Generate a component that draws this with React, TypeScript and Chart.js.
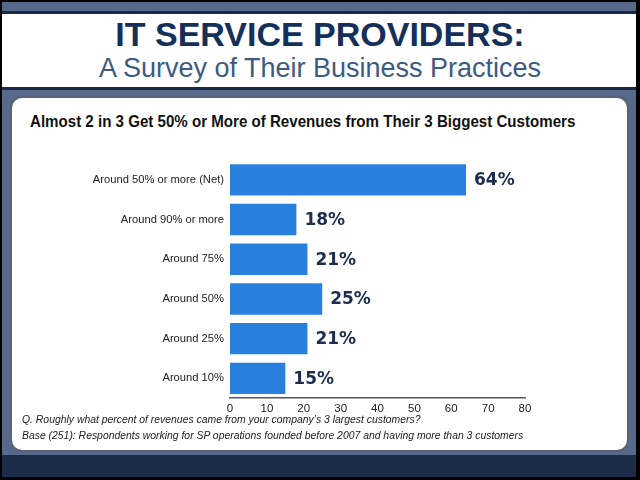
import React, { useEffect, useRef } from "react";
import { Chart, registerables } from "chart.js";

Chart.register(...registerables);

const categories = [
  "Around 50% or more (Net)",
  "Around 90% or more",
  "Around 75%",
  "Around 50%",
  "Around 25%",
  "Around 10%",
];
const values = [64, 18, 21, 25, 21, 15];
const xTicks = [0, 10, 20, 30, 40, 50, 60, 70, 80];

const headerTitle = "IT SERVICE PROVIDERS:";
const headerSubtitle = "A Survey of Their Business Practices";
const chartTitle = "Almost 2 in 3 Get 50% or More of Revenues from Their 3 Biggest Customers";
const note1 = "Q. Roughly what percent of revenues came from your company\u2019s 3 largest customers?";
const note2 = "Base (251):  Respondents working for SP operations founded before 2007 and having more than 3 customers";

const FONT = "'Liberation Sans', Arial, sans-serif";

const valueLabels = {
  id: "valueLabels",
  afterDatasetsDraw(chart: any) {
    const ctx = chart.ctx;
    const meta = chart.getDatasetMeta(0);
    ctx.save();
    ctx.font = "bold 17px 'DejaVu Sans', sans-serif";
    ctx.fillStyle = "#1c2d50";
    ctx.textBaseline = "middle";
    ctx.textAlign = "left";
    meta.data.forEach((bar: any, i: number) => {
      ctx.fillText(values[i] + "%", bar.x + 8, bar.y + 1);
    });
    ctx.restore();
  },
};

export default function App() {
  const ref = useRef<HTMLCanvasElement>(null);
  useEffect(() => {
    document.body.style.margin = "0";
    const chart = new Chart(ref.current!, {
      type: "bar",
      data: {
        labels: categories,
        datasets: [
          {
            data: values,
            backgroundColor: "#2a80de",
            borderWidth: 0,
            categoryPercentage: 1,
            barPercentage: 0.79,
          },
        ],
      },
      options: {
        indexAxis: "y",
        animation: false,
        responsive: false,
        layout: { padding: { left: 18, right: 101, top: 60, bottom: 0 } },
        plugins: {
          legend: { display: false },
          tooltip: { enabled: false },
          title: { display: false },
        },
        scales: {
          x: {
            min: 0,
            max: 80,
            afterBuildTicks(scale: any) {
              scale.ticks = xTicks.map((v) => ({ value: v }));
            },
            grid: { display: false, drawTicks: false },
            border: { display: true, color: "#555555", width: 1.5 },
            ticks: {
              color: "#222222",
              font: { family: FONT, size: 11.5 },
              padding: 4,
            },
          },
          y: {
            grid: { display: false, drawTicks: false },
            border: { display: false },
            afterFit(scale: any) {
              scale.width = 200;
            },
            ticks: {
              color: "#222222",
              font: { family: FONT, size: 11.2 },
              padding: 6,
            },
          },
        },
      },
      plugins: [valueLabels],
    });
    return () => chart.destroy();
  }, []);

  const abs = (s: React.CSSProperties): React.CSSProperties => ({ position: "absolute", ...s });

  return (
    <div style={{ position: "relative", width: 640, height: 480, background: "#000", overflow: "hidden", fontFamily: FONT }}>
      <div style={abs({ left: 2, top: 2, width: 634, height: 9, background: "#55688a" })} />
      <div style={abs({ left: 2, top: 11, width: 634, height: 3, background: "#1a2946" })} />
      <div style={abs({ left: 2, top: 14, width: 634, height: 73, background: "#ffffff" })} />
      <div style={abs({ left: 2, top: 87, width: 634, height: 3, background: "#1a2946" })} />
      <div style={abs({ left: 2, top: 90, width: 634, height: 365, background: "#56698b" })} />
      <div style={abs({ left: 2, top: 455, width: 634, height: 22, background: "#1c2b4a" })} />
      <div
        style={abs({
          left: 10,
          top: 96,
          width: 615,
          height: 352,
          background: "#ffffff",
          border: "2px solid #5b6272",
          borderRadius: 12,
        })}
      />
      <div
        style={abs({
          left: 0,
          top: 16,
          width: 640,
          textAlign: "center",
          fontSize: 34,
          fontWeight: "bold",
          color: "#14305a",
          lineHeight: "36px",
        })}
      >
        {headerTitle}
      </div>
      <div
        style={abs({
          left: 0,
          top: 53,
          width: 640,
          textAlign: "center",
          fontSize: 27,
          color: "#3d5b82",
          lineHeight: "30px",
        })}
      >
        {headerSubtitle}
      </div>
      <div
        style={abs({
          left: 30,
          top: 111,
          fontSize: 16.5,
          fontWeight: "bold",
          color: "#111",
          lineHeight: "20px",
          whiteSpace: "nowrap",
          transform: "scaleX(0.915)",
          transformOrigin: "left top",
        })}
      >
        {chartTitle}
      </div>
      <canvas ref={ref} width={614} height={320} style={abs({ left: 12, top: 100 })} />
      <div
        style={abs({
          left: 22,
          top: 411,
          fontSize: 11,
          fontStyle: "italic",
          color: "#222",
          lineHeight: "16px",
          whiteSpace: "nowrap",
          transform: "scaleX(0.945)",
          transformOrigin: "left top",
        })}
      >
        <div>{note1}</div>
        <div>{note2}</div>
      </div>
    </div>
  );
}
